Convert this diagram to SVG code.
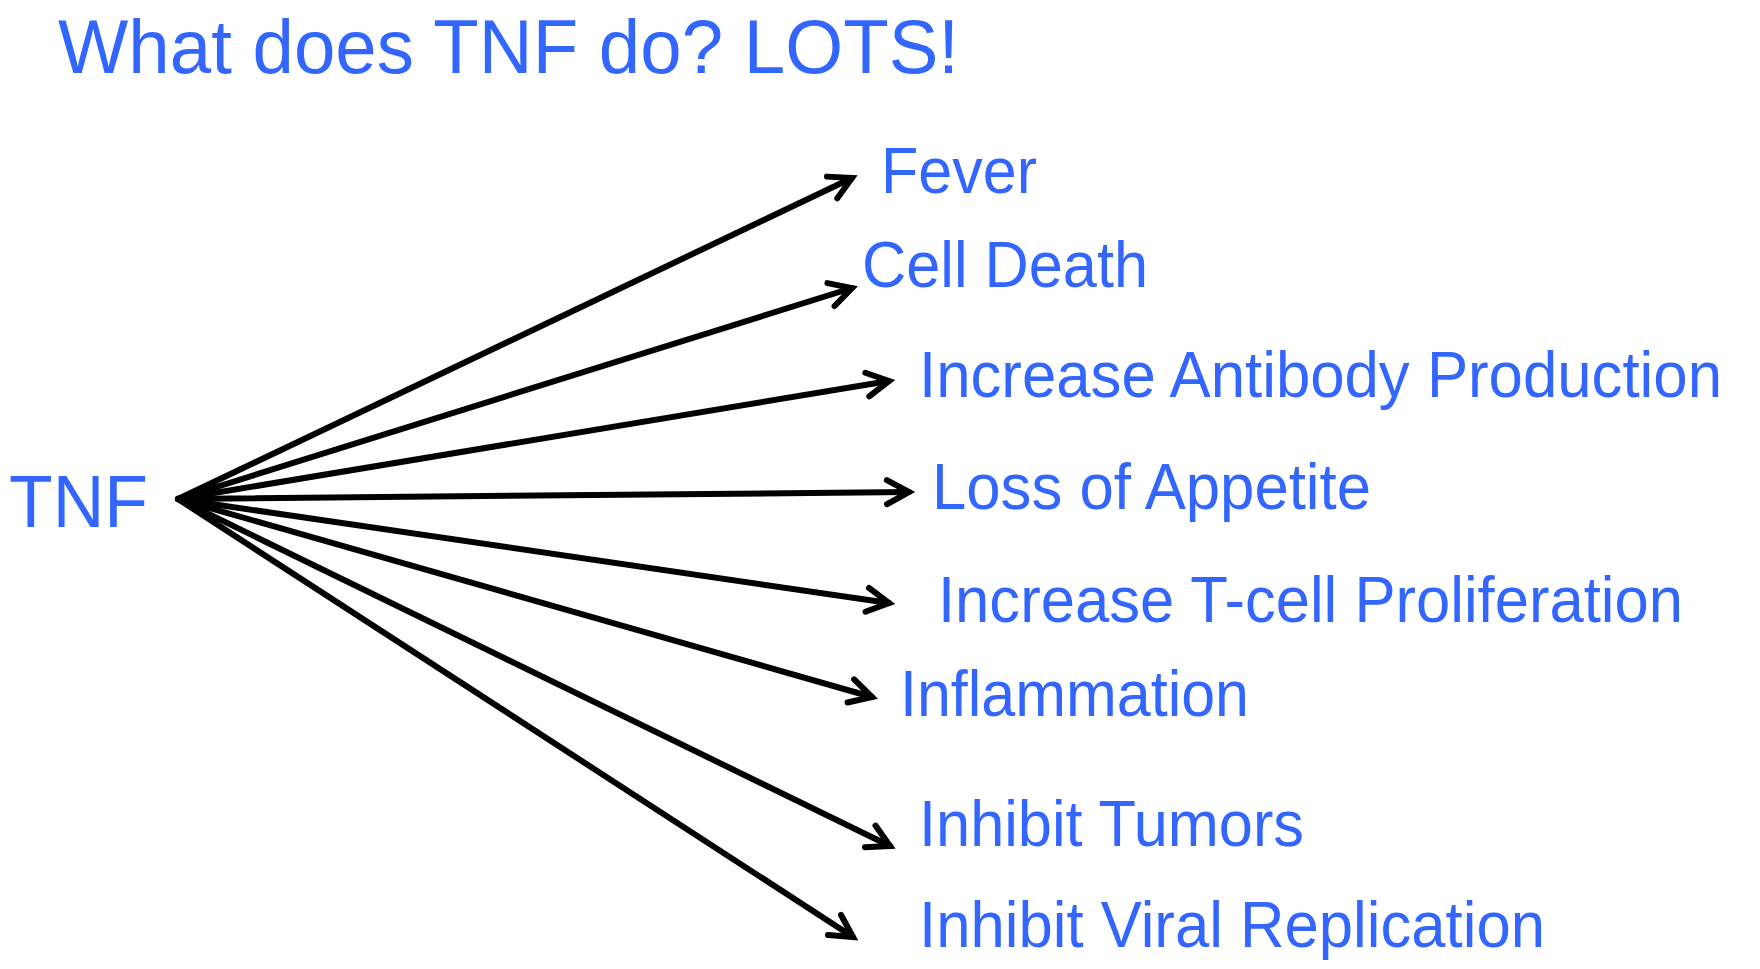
<svg xmlns="http://www.w3.org/2000/svg" width="1760" height="969" viewBox="0 0 1760 969">
  <style>
    .t { font-family: "Liberation Sans", Arial, sans-serif; fill: #3366FF; }
    .lbl { font-size: 64px; }
    .conn line { stroke: #000; stroke-width: 6; stroke-linecap: round; }
  </style>
  <defs>
    <marker id="ah" markerUnits="userSpaceOnUse" viewBox="-30 -18 34 36" refX="0" refY="0" markerWidth="34" markerHeight="36" orient="auto" overflow="visible">
      <path d="M-22,-12 L0,0 L-22,12" fill="none" stroke="#000" stroke-width="6" stroke-linecap="round" stroke-linejoin="miter"/>
    </marker>
  </defs>
  <rect width="1760" height="969" fill="#fff"/>
  <text id="title" class="t" x="58" y="73" font-size="76" textLength="901" lengthAdjust="spacingAndGlyphs">What does TNF do? LOTS!</text>
  <g id="tnf"><text class="t" x="9" y="527" font-size="75" textLength="139" lengthAdjust="spacingAndGlyphs">TNF</text></g>
  <g id="connectors" class="conn">
    <line x1="178" y1="499" x2="852" y2="178" marker-end="url(#ah)"/>
    <line x1="178" y1="499" x2="852" y2="288" marker-end="url(#ah)"/>
    <line x1="178" y1="499" x2="889" y2="381" marker-end="url(#ah)"/>
    <line x1="178" y1="499" x2="909" y2="492" marker-end="url(#ah)"/>
    <line x1="178" y1="499" x2="889" y2="603" marker-end="url(#ah)"/>
    <line x1="178" y1="499" x2="872" y2="697" marker-end="url(#ah)"/>
    <line x1="178" y1="499" x2="890" y2="846" marker-end="url(#ah)"/>
    <line x1="178" y1="499" x2="853" y2="937" marker-end="url(#ah)"/>
  </g>
  <g id="fever"><text class="t lbl" x="881" y="193" textLength="156" lengthAdjust="spacingAndGlyphs">Fever</text></g>
  <g id="cell-death"><text class="t lbl" x="862" y="287" textLength="286" lengthAdjust="spacingAndGlyphs">Cell Death</text></g>
  <g id="antibody"><text class="t lbl" x="919" y="397" textLength="803" lengthAdjust="spacingAndGlyphs">Increase Antibody Production</text></g>
  <g id="appetite"><text class="t lbl" x="932" y="509" textLength="439" lengthAdjust="spacingAndGlyphs">Loss of Appetite</text></g>
  <g id="tcell"><text class="t lbl" x="938" y="622" textLength="745" lengthAdjust="spacingAndGlyphs">Increase T-cell Proliferation</text></g>
  <g id="inflammation"><text class="t lbl" x="900" y="716" textLength="349" lengthAdjust="spacingAndGlyphs">Inflammation</text></g>
  <g id="tumors"><text class="t lbl" x="919" y="846" textLength="385" lengthAdjust="spacingAndGlyphs">Inhibit Tumors</text></g>
  <g id="viral"><text class="t lbl" x="919" y="947" textLength="626" lengthAdjust="spacingAndGlyphs">Inhibit Viral Replication</text></g>
</svg>
